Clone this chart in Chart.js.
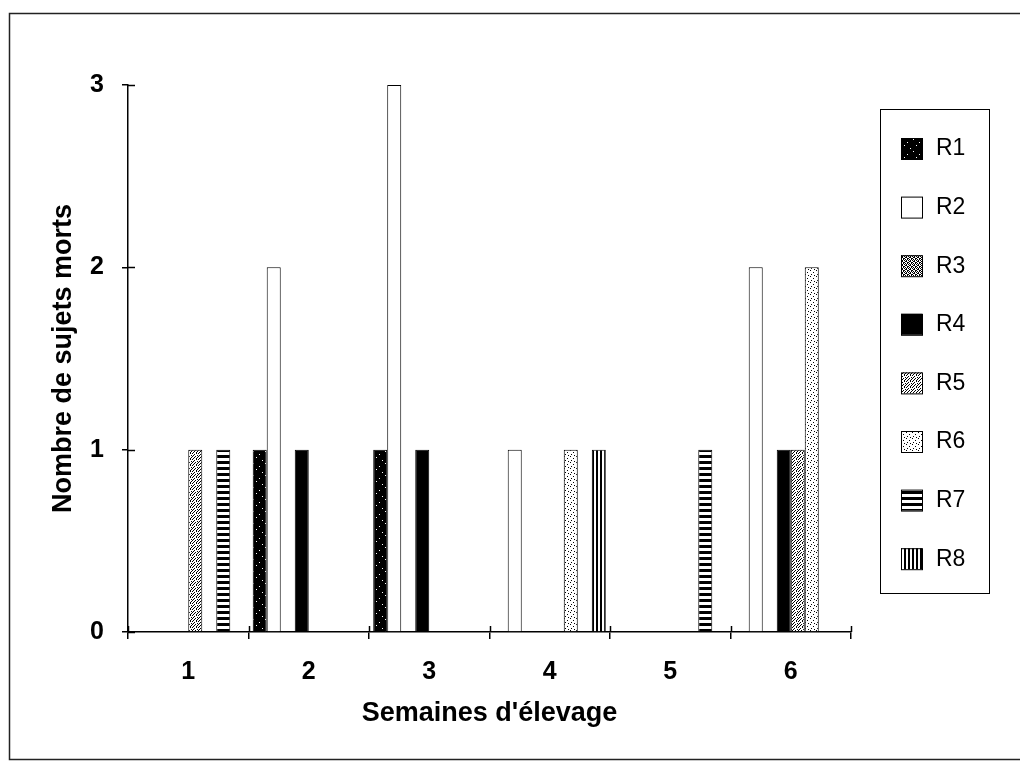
<!DOCTYPE html>
<html>
<head>
<meta charset="utf-8">
<script src="https://cdn.jsdelivr.net/npm/chart.js@4/dist/chart.umd.min.js"></script>
<style>
  html, body { margin: 0; padding: 0; background: #fff; }
  #wrap { width: 1020px; height: 762px; position: relative; }
</style>
</head>
<body>
<div id="wrap"><canvas id="chart" width="1020" height="762"></canvas></div>
<script>
// Data
const weeks = ['1', '2', '3', '4', '5', '6'];
const seriesNames = ['R1', 'R2', 'R3', 'R4', 'R5', 'R6', 'R7', 'R8'];
const r1 = [0, 1, 1, 0, 0, 0];
const r2 = [0, 2, 3, 1, 0, 2];
const r3 = [0, 0, 0, 0, 0, 0];
const r4 = [0, 1, 1, 0, 0, 1];
const r5 = [1, 0, 0, 0, 0, 1];
const r6 = [0, 0, 0, 1, 0, 2];
const r7 = [1, 0, 0, 0, 1, 0];
const r8 = [0, 0, 0, 1, 0, 0];
const yTicks = [0, 1, 2, 3];

const seriesValues = [r1, r2, r3, r4, r5, r6, r7, r8];

// Fill patterns (tiles: '#' dark pixel, '.' light pixel)
const tiles = [
  ['############', '####.#######', '############', '############', '##########.#', '############',
   '############', '#.##########', '############', '############', '#######.####', '############'],
  ['.'],
  ['#.#.', '.##.', '#..#', '.#.#'],
  ['#'],
  ['#..#..', '..#..#', '.#..#.', '#...#.', '..#...', '.#...#'],
  ['#.....', '......', '...#..', '......', '.#....', '....#.'],
  ['#', '#', '.', '.', '.', '#'],
  ['##..']
];

function makePattern(rows) {
  const c = document.createElement('canvas');
  c.width = rows[0].length;
  c.height = rows.length;
  const g = c.getContext('2d');
  rows.forEach((row, y) => {
    for (let x = 0; x < row.length; x++) {
      g.fillStyle = row[x] === '#' ? '#000' : '#fff';
      g.fillRect(x, y, 1, 1);
    }
  });
  return g.createPattern(c, 'repeat');
}

const ctx = document.getElementById('chart').getContext('2d');
const patterns = tiles.map(makePattern);

const FONT = "'Liberation Sans', Arial, sans-serif";

// frame, inward tick halves, boxed legend
const extras = {
  id: 'extras',
  afterDraw(chart) {
    const c = chart.ctx;
    const xs = chart.scales.x, ys = chart.scales.y;
    const area = chart.chartArea;
    c.save();
    c.strokeStyle = '#000';
    c.lineWidth = 1.5;
    yTicks.forEach(v => {
      const py = Math.round(ys.getPixelForValue(v)) + 0.5;
      c.beginPath(); c.moveTo(area.left, py); c.lineTo(area.left + 7, py); c.stroke();
    });
    for (let i = 0; i <= weeks.length; i++) {
      const px = Math.round(xs.getPixelForValue(i - 0.5)) + 0.5;
      c.beginPath(); c.moveTo(px, area.bottom); c.lineTo(px, area.bottom - 6); c.stroke();
    }

    // outer frame
    c.lineWidth = 1.5;
    c.strokeStyle = '#222';
    c.strokeRect(9.5, 13.5, 1030, 746);

    // legend
    c.lineWidth = 1;
    c.strokeStyle = '#000';
    c.strokeRect(880.5, 109.5, 109, 484);
    c.font = '23px ' + FONT;
    c.textBaseline = 'middle';
    c.fillStyle = '#000';
    chart.data.datasets.forEach((ds, i) => {
      const cy = 148 + i * 58.6;
      c.fillStyle = ds.backgroundColor;
      c.fillRect(901, cy - 10, 21, 21);
      c.strokeRect(901.5, cy - 9.5, 21, 21);
      c.fillStyle = '#000';
      c.fillText(ds.label, 936, cy + 1);
    });
    c.restore();
  }
};

new Chart(ctx, {
  type: 'bar',
  data: {
    labels: weeks,
    datasets: seriesNames.map((name, i) => ({
      label: name,
      data: seriesValues[i],
      backgroundColor: patterns[i],
      borderColor: '#000',
      borderWidth: 1,
      borderSkipped: 'bottom',
      categoryPercentage: 0.93,
      barPercentage: 1.0
    }))
  },
  options: {
    responsive: false,
    animation: false,
    layout: { padding: { left: 47, right: 169, top: 85, bottom: 32 } },
    plugins: {
      legend: { display: false },
      tooltip: { enabled: false }
    },
    scales: {
      x: {
        afterFit: s => { s.height = 98; },
        grid: { display: true, drawOnChartArea: false, offset: true, tickLength: 7, color: '#000', lineWidth: 1.5 },
        border: { display: true, color: '#000', width: 1.5 },
        ticks: { color: '#000', padding: 18, font: { family: FONT, size: 25, weight: 'bold' } },
        title: {
          display: true,
          text: "Semaines d'élevage",
          color: '#000',
          padding: 0,
          font: { family: FONT, size: 27, weight: 'bold' }
        }
      },
      y: {
        min: 0,
        max: 3,
        afterFit: s => { s.width = 81; },
        afterBuildTicks: s => { s.ticks = yTicks.map(v => ({ value: v })); },
        grid: { display: true, drawOnChartArea: false, tickLength: 6, color: '#000', lineWidth: 1.5 },
        border: { display: true, color: '#000', width: 1.5 },
        ticks: { color: '#000', padding: 18, font: { family: FONT, size: 25, weight: 'bold' } },
        title: {
          display: true,
          text: 'Nombre de sujets morts',
          color: '#000',
          padding: 0,
          font: { family: FONT, size: 27, weight: 'bold' }
        }
      }
    }
  },
  plugins: [extras]
});
</script>
</body>
</html>
